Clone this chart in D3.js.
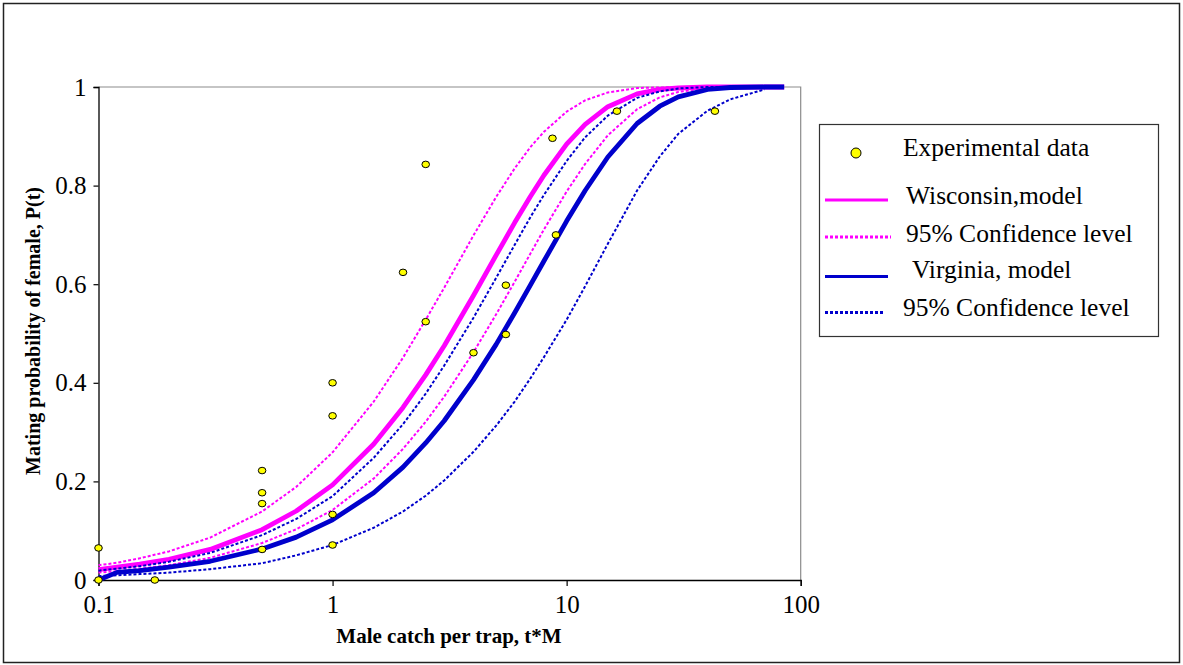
<!DOCTYPE html>
<html>
<head>
<meta charset="utf-8">
<script src="https://cdn.jsdelivr.net/npm/d3@7"></script>
<style>
  html, body { margin: 0; padding: 0; background: #fff; }
  svg { display: block; }
</style>
</head>
<body>
<svg id="chart" width="1183" height="665"></svg>
<script>
// Tick values
const xTicks = [0.1, 1, 10, 100];
const yTicks = [0, 0.2, 0.4, 0.6, 0.8, 1];

// Experimental observations: male catch per trap (t*M) and mating probability
const obsX = [0.1, 0.1, 0.174, 0.5, 0.5, 0.5, 0.5, 1, 1, 1, 1, 2, 2.5, 2.5, 4, 5.5, 5.5, 8.7, 9, 16.4, 43];
const obsY = [0.065, 0, 0, 0.222, 0.177, 0.155, 0.062, 0.4, 0.333, 0.133, 0.071, 0.624, 0.524, 0.843, 0.461, 0.598, 0.498, 0.896, 0.7, 0.951, 0.951];

// Model curves sampled along t*M
const modelX = [0.1, 0.12, 0.15, 0.2, 0.3, 0.5, 0.7, 1, 1.5, 2, 2.5, 3, 4, 5, 6, 7, 8, 10, 12, 15, 20, 25, 30, 40, 50, 70, 85];
const wisconsin = [0.021, 0.026, 0.032, 0.042, 0.062, 0.102, 0.140, 0.193, 0.276, 0.350, 0.416, 0.475, 0.577, 0.659, 0.725, 0.778, 0.821, 0.884, 0.924, 0.960, 0.986, 0.995, 0.998, 1, 1, 1, 1];
const virginia = [0, 0.0155, 0.019, 0.026, 0.038, 0.063, 0.087, 0.122, 0.177, 0.229, 0.278, 0.323, 0.406, 0.478, 0.542, 0.598, 0.647, 0.728, 0.790, 0.858, 0.926, 0.961, 0.980, 0.995, 0.999, 1, 1];

// 95% confidence bounds, sampled up to t*M = 70
const bandX = [0.1, 0.12, 0.15, 0.2, 0.3, 0.5, 0.7, 1, 1.5, 2, 2.5, 3, 4, 5, 6, 7, 8, 10, 12, 15, 20, 25, 30, 40, 50, 70];
const wisconsinUpper = [0.030, 0.035, 0.044, 0.058, 0.086, 0.139, 0.189, 0.259, 0.362, 0.451, 0.528, 0.593, 0.699, 0.777, 0.835, 0.878, 0.909, 0.950, 0.973, 0.989, 0.998, 0.999, 1, 1, 1, 1];
const wisconsinLower = [0.015, 0.018, 0.023, 0.030, 0.045, 0.075, 0.103, 0.142, 0.206, 0.266, 0.321, 0.372, 0.462, 0.539, 0.605, 0.662, 0.711, 0.788, 0.844, 0.902, 0.955, 0.979, 0.990, 0.998, 1, 1];
const virginiaUpper = [0.019, 0.023, 0.028, 0.037, 0.055, 0.091, 0.124, 0.170, 0.248, 0.316, 0.378, 0.435, 0.532, 0.613, 0.680, 0.736, 0.781, 0.850, 0.898, 0.942, 0.978, 0.991, 0.997, 1, 1, 1];
const virginiaLower = [0.008, 0.0095, 0.012, 0.015, 0.022, 0.034, 0.050, 0.071, 0.106, 0.139, 0.171, 0.202, 0.260, 0.313, 0.362, 0.409, 0.452, 0.528, 0.596, 0.682, 0.790, 0.859, 0.905, 0.952, 0.975, 0.995];

const legendLabels = ["Experimental data", "Wisconsin,model", "95% Confidence level", " Virginia, model", "95% Confidence level"];

const MAGENTA = "#ff00ff";
const BLUE = "#0000cc";
const SERIF = "'Liberation Serif', 'Times New Roman', Times, serif";

const svg = d3.select("#chart").attr("font-family", SERIF);

// Outer frame
svg.append("rect")
  .attr("x", 3.5).attr("y", 3.5).attr("width", 1176).attr("height", 659)
  .attr("fill", "none").attr("stroke", "#222").attr("stroke-width", 1.5);

const plot = { left: 98.5, right: 800.7, top: 87, bottom: 580 };

const x = d3.scaleLog().domain([0.1, 100]).range([plot.left, plot.right]);
const y = d3.scaleLinear().domain([0, 1]).range([plot.bottom, plot.top]);

// Plot area border (top and right in grey)
svg.append("path")
  .attr("d", `M${plot.left},${plot.top}H${plot.right}V${plot.bottom}`)
  .attr("fill", "none").attr("stroke", "#8c8c8c").attr("stroke-width", 1.2);

// Axes
const xAxis = d3.axisBottom(x).tickValues(xTicks).tickSize(6).tickPadding(8)
  .tickFormat(d => d3.format("~g")(d));
const gx = svg.append("g").attr("transform", `translate(0,${plot.bottom})`).call(xAxis);
gx.attr("font-family", SERIF).attr("font-size", 25);
gx.select(".domain").attr("stroke", "#000").attr("stroke-width", 1.3);
gx.selectAll(".tick line").attr("stroke", "#000").attr("stroke-width", 1.2);
gx.selectAll(".tick text").style("font-family", SERIF).style("font-size", "25px").attr("dy", "0.75em");

const yAxis = d3.axisLeft(y).tickValues(yTicks).tickSize(5).tickPadding(7)
  .tickFormat(d => d3.format("~g")(d));
const gy = svg.append("g").attr("transform", `translate(${plot.left},0)`).call(yAxis);
gy.attr("font-family", SERIF).attr("font-size", 25);
gy.select(".domain").attr("stroke", "#000").attr("stroke-width", 1.3);
gy.selectAll(".tick line").attr("stroke", "#000").attr("stroke-width", 1.2);
gy.selectAll(".tick text").style("font-family", SERIF).style("font-size", "25px");

// Axis titles
svg.append("text")
  .attr("x", 449).attr("y", 643)
  .attr("text-anchor", "middle")
  .style("font-family", SERIF)
  .style("font-weight", "bold").style("font-size", "21px")
  .text("Male catch per trap, t*M");

svg.append("text")
  .attr("transform", "translate(40,331) rotate(-90)")
  .attr("text-anchor", "middle")
  .style("font-family", SERIF)
  .style("font-weight", "bold").style("font-size", "20px")
  .text("Mating probability of female, P(t)");

// Curves
const line = d3.line().x(d => x(d[0])).y(d => y(d[1]));
const zip = (xs, ys) => xs.map((v, i) => [v, ys[i]]);

const curves = [
  { xs: modelX, ys: wisconsin, color: MAGENTA, width: 4.8, dash: null },
  { xs: bandX, ys: wisconsinUpper, color: MAGENTA, width: 2, dash: "3,2" },
  { xs: bandX, ys: wisconsinLower, color: MAGENTA, width: 2, dash: "3,2" },
  { xs: modelX, ys: virginia, color: BLUE, width: 4.8, dash: null },
  { xs: bandX, ys: virginiaUpper, color: BLUE, width: 2, dash: "3,2" },
  { xs: bandX, ys: virginiaLower, color: BLUE, width: 2, dash: "3,2" }
];

svg.append("g").selectAll("path")
  .data(curves)
  .join("path")
  .attr("d", c => line(zip(c.xs, c.ys)))
  .attr("fill", "none")
  .attr("stroke", c => c.color)
  .attr("stroke-width", c => c.width)
  .attr("stroke-dasharray", c => c.dash)
  .attr("stroke-linejoin", "round");

// Observations
svg.append("g").selectAll("ellipse")
  .data(zip(obsX, obsY))
  .join("ellipse")
  .attr("cx", d => x(d[0]))
  .attr("cy", d => y(d[1]))
  .attr("rx", 3.8).attr("ry", 3.3)
  .attr("fill", "#ffff00")
  .attr("stroke", "#000").attr("stroke-width", 1);

// Legend
const lg = svg.append("g");
lg.append("rect")
  .attr("x", 819.5).attr("y", 124.5).attr("width", 339).attr("height", 212)
  .attr("fill", "#fff").attr("stroke", "#333").attr("stroke-width", 1.2);

lg.append("circle")
  .attr("cx", 856).attr("cy", 153).attr("r", 5)
  .attr("fill", "#ffff00").attr("stroke", "#000").attr("stroke-width", 1);

const legendRows = [
  { ty: 156, tx: 903 },
  { ty: 204, tx: 906, ly: 200, color: MAGENTA, dash: null, x2: 888 },
  { ty: 242, tx: 906, ly: 237, color: MAGENTA, dash: "3,2", x2: 891 },
  { ty: 278, tx: 906, ly: 276.5, color: BLUE, dash: null, x2: 888 },
  { ty: 316, tx: 903, ly: 312.5, color: BLUE, dash: "3,2", x2: 883 }
];

legendRows.forEach((r, i) => {
  if (r.ly !== undefined) {
    lg.append("line")
      .attr("x1", 825).attr("x2", r.x2)
      .attr("y1", r.ly).attr("y2", r.ly)
      .attr("stroke", r.color).attr("stroke-width", 3)
      .attr("stroke-dasharray", r.dash);
  }
  lg.append("text")
    .attr("x", r.tx).attr("y", r.ty)
    .style("font-family", SERIF)
    .style("font-size", "25.5px")
    .style("white-space", "pre")
    .text(legendLabels[i]);
});
</script>
</body>
</html>
